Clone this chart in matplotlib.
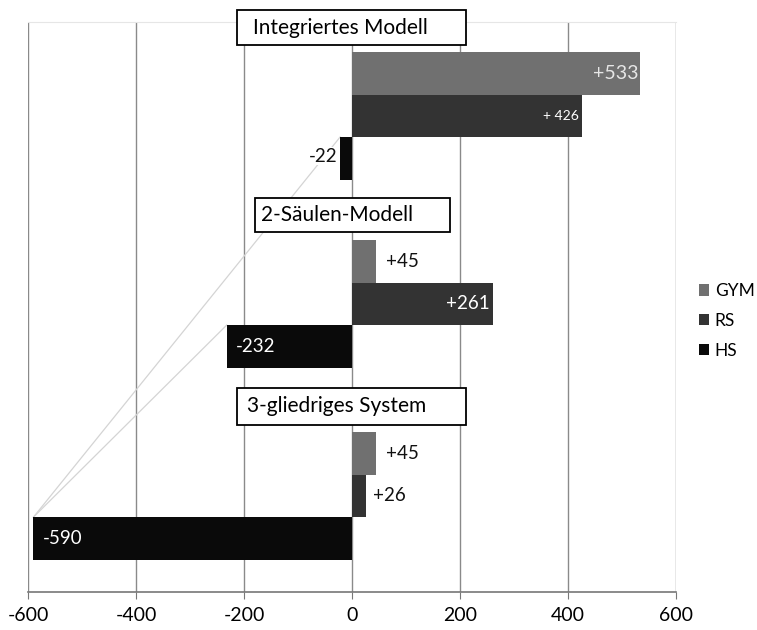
import matplotlib
matplotlib.use("Agg")
import matplotlib.pyplot as plt
from matplotlib.patches import Rectangle, Patch

plt.rcParams['font.family'] = ['Lato', 'DejaVu Sans']
plt.rcParams['axes.unicode_minus'] = False

# ---- data ----
groups = ["Integriertes Modell", "2-Säulen-Modell", "3-gliedriges System"]
series = ["GYM", "RS", "HS"]
gym = [533, 45, 45]
rs = [426, 261, 26]
hs = [-22, -232, -590]
gym_labels = ["+533", "+45", "+45"]
rs_labels = ["+ 426", "+261", "+26"]
hs_labels = ["-22", "-232", "-590"]
xticks = [-600, -400, -200, 0, 200, 400, 600]
xtick_labels = ["-600", "-400", "-200", "0", "200", "400", "600"]

colors = {"GYM": "#707070", "RS": "#333333", "HS": "#0a0a0a"}

# ---- layout ----
group_top = [0.706, 5.13, 9.65]       # top edge of first bar of each group (slot units)
box_center = [0.13, 4.54, 9.04]
box_x = [(-213, 212), (-180, 181), (-213, 212)]
box_h = [0.82, 0.82, 0.88]
text_x = [-183, -168, -194]

fig = plt.figure(figsize=(7.57, 6.30), dpi=100)
ax = fig.add_axes([28/757, 1-592/630, (676-28)/757, (592-22)/630])
ax.set_xlim(-600, 600)
ax.set_ylim(13.41, 0)

values = [gym, rs, hs]
for g in range(3):
    for i, s in enumerate(series):
        yc = group_top[g] + i + 0.5
        ax.barh(yc, values[i][g], height=1.0, color=colors[s], zorder=3)

# connector lines (top-left corners of HS bars)
hs_top = [group_top[g] + 2 for g in range(3)]
for g in (0, 1):
    ax.plot([hs[2], hs[g]], [hs_top[2], hs_top[g]], color="#d4d4d4", lw=0.9, zorder=2)

# value labels
fs = 13.5
for g in range(3):
    # GYM
    yc = group_top[g] + 0.5
    v = gym[g]
    if v > 200:
        ax.text(v - 3, yc, gym_labels[g], ha="right", va="center", color="#e6e6e6", fontsize=14, zorder=5)
    else:
        ax.text(v + 18, yc, gym_labels[g], ha="left", va="center", color="#111111", fontsize=fs, zorder=5)
    # RS
    yc = group_top[g] + 1.5
    v = rs[g]
    if v > 200:
        small = g == 0
        ax.text(v - 6, yc, rs_labels[g], ha="right", va="center", color="white",
                fontsize=10 if small else fs, zorder=5)
    else:
        ax.text(v + 12, yc, rs_labels[g], ha="left", va="center", color="#111111", fontsize=fs, zorder=5)
    # HS
    yc = group_top[g] + 2.5
    v = hs[g]
    if v < -100:
        ax.text(v + 17, yc, hs_labels[g], ha="left", va="center", color="white", fontsize=fs, zorder=5)
    else:
        ax.text(v - 5, yc - 0.05, hs_labels[g], ha="right", va="center", color="#111111", fontsize=fs,
                zorder=5, bbox=dict(facecolor="white", edgecolor="none", pad=0.5))

# group title boxes
for g in range(3):
    x0, x1 = box_x[g]
    h = box_h[g]
    rect = Rectangle((x0, box_center[g] - h/2), x1 - x0, h, facecolor="white",
                     edgecolor="black", lw=1.3, zorder=6, clip_on=False)
    ax.add_patch(rect)
    ax.text(text_x[g], box_center[g], groups[g], ha="left", va="center", fontsize=15,
            color="black", zorder=7, clip_on=False)

# grid and axes
ax.set_xticks(xticks)
ax.set_xticklabels(xtick_labels, fontsize=14)
ax.set_yticks([])
ax.xaxis.grid(True, color="#8a8a8a", lw=1.0, zorder=0)
ax.set_axisbelow(True)
for side in ("left", "right"):
    ax.spines[side].set_visible(False)
ax.spines["top"].set_color("#e6e6e6")
ax.spines["bottom"].set_color("#777777")
ax.spines["bottom"].set_linewidth(1.2)
ax.tick_params(axis="x", length=5, color="#777777", pad=6)

handles = [Patch(facecolor=colors[s], edgecolor="none") for s in series]
fig.legend(handles, series, loc="center left", bbox_to_anchor=(699/757, 1-321/630),
           frameon=False, fontsize=12.5, handlelength=0.6, handleheight=0.6,
           handletextpad=0.3, labelspacing=0.8, borderpad=0, borderaxespad=0)

fig.savefig("out.png", dpi=100)
